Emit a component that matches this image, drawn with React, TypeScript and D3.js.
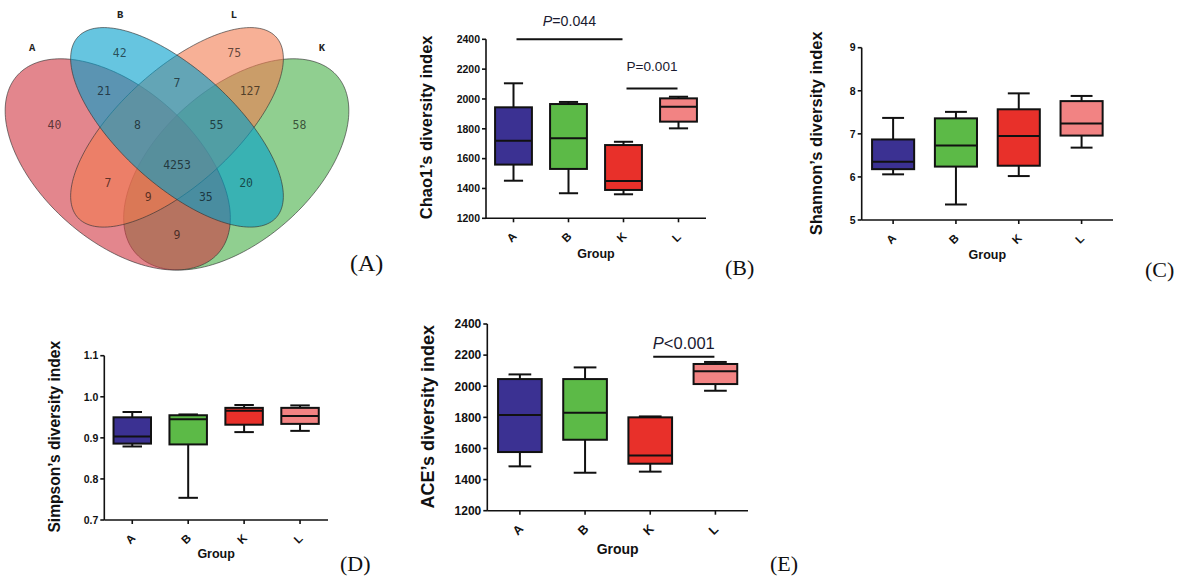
import React from "react";
import * as d3 from "d3";

// ---------- DATA ----------
const groups = ["A", "B", "K", "L"];
const groupColors = ["#3b3192", "#5cba47", "#e8302a", "#f28383"];

// each group: [min, q1, median, q3, max]
const chao1 = [
  [1452, 1560, 1720, 1944, 2105],
  [1368, 1531, 1736, 1966, 1980],
  [1361, 1390, 1450, 1691, 1713],
  [1803, 1848, 1948, 2004, 2015],
];
const shannon = [
  [6.06, 6.18, 6.35, 6.87, 7.37],
  [5.36, 6.24, 6.73, 7.36, 7.51],
  [6.02, 6.26, 6.95, 7.57, 7.94],
  [6.68, 6.96, 7.24, 7.76, 7.88],
];
const simpson = [
  [0.879, 0.886, 0.903, 0.95, 0.963],
  [0.754, 0.884, 0.945, 0.955, 0.957],
  [0.914, 0.932, 0.966, 0.973, 0.98],
  [0.917, 0.934, 0.953, 0.973, 0.979],
];
const ace = [
  [1485, 1577, 1815, 2046, 2076],
  [1444, 1656, 1830, 2046, 2121],
  [1451, 1502, 1554, 1800, 1806],
  [1971, 2014, 2096, 2143, 2156],
];

const chaoTicks = [1200, 1400, 1600, 1800, 2000, 2200, 2400];
const shannonTicks = [5, 6, 7, 8, 9];
const simpsonTicks = [0.7, 0.8, 0.9, 1.0, 1.1];
const aceTicks = [1200, 1400, 1600, 1800, 2000, 2200, 2400];

const chaoSig = [
  { from: "A", to: "K", level: 2400, label: "=0.044", italic: true },
  { from: "K", to: "L", level: 2070, label: "=0.001", italic: false },
];
const aceSig = [{ from: "K", to: "L", level: 2190, label: "<0.001", italic: true }];

// Venn
const vennSets = ["A", "B", "L", "K"];
const vennColors = ["#d03541", "#009ecb", "#f27b50", "#46af46"];
const vennCounts = [40, 42, 75, 58, 21, 7, 127, 8, 55, 4253, 7, 20, 9, 35, 9];

// ---------- LAYOUT ----------
const FONT = "'Liberation Sans', Arial, Helvetica, sans-serif";
const SERIF = "'Liberation Serif', 'Times New Roman', serif";
const MONO = "'DejaVu Sans Mono', 'Liberation Mono', monospace";

// unit-space positions of venn region labels (same order as vennCounts)
const vennLabelPos: [number, number][] = [
  [0.19, 0.576], [0.355, 0.771], [0.645, 0.771], [0.81, 0.576],
  [0.315, 0.668], [0.5, 0.69], [0.685, 0.668],
  [0.4, 0.576], [0.6, 0.576], [0.5, 0.468],
  [0.325, 0.42], [0.675, 0.42], [0.427, 0.382], [0.573, 0.382], [0.5, 0.279],
];
const vennSetLabelPos: [number, number][] = [[0.133, 0.787], [0.356, 0.876], [0.644, 0.876], [0.867, 0.787]];
// ellipses: cx, cy, a, b, angle(deg)
const vennEllipses = [
  [0.35, 0.47, 0.35, 0.2, -45],
  [0.5, 0.57, 0.35, 0.15, -45],
  [0.5, 0.57, 0.35, 0.15, 45],
  [0.65, 0.47, 0.35, 0.2, 45],
];
const drawOrder = [3, 0, 2, 1];

function Venn() {
  const sx = d3.scaleLinear().domain([0, 1]).range([-20.5, 374.5]);
  const sy = d3.scaleLinear().domain([0.84, 0.185]).range([27.3, 270]);
  const line = d3.line<[number, number]>().curve(d3.curveLinearClosed);
  const paths = vennEllipses.map(([cx, cy, a, b, ang]) => {
    const th = (ang * Math.PI) / 180;
    const pts: [number, number][] = d3.range(0, 180).map((i) => {
      const t = (i / 180) * 2 * Math.PI;
      const ux = cx + a * Math.cos(t) * Math.cos(th) - b * Math.sin(t) * Math.sin(th);
      const uy = cy + a * Math.cos(t) * Math.sin(th) + b * Math.sin(t) * Math.cos(th);
      return [sx(ux), sy(uy)];
    });
    return line(pts) as string;
  });
  return (
    <g>
      {drawOrder.map((i) => (
        <path key={i} d={paths[i]} fill={vennColors[i]} fillOpacity={0.6} stroke="#333" strokeOpacity={0.8} strokeWidth={0.8} />
      ))}
      {vennCounts.map((c, i) => (
        <text key={i} x={sx(vennLabelPos[i][0])} y={sy(vennLabelPos[i][1])} textAnchor="middle" dy="0.35em"
          fontFamily={MONO} fontSize={11.5} fill="#000" fillOpacity={0.62}>{c}</text>
      ))}
      {vennSets.map((s, i) => (
        <text key={s} x={sx(vennSetLabelPos[i][0])} y={sy(vennSetLabelPos[i][1])} textAnchor="middle" dy="0.35em"
          fontFamily="'Liberation Mono', 'DejaVu Sans Mono', monospace" fontWeight="bold" fontSize={10.5} fill="#222">{s}</text>
      ))}
      <text x={350} y={271} fontFamily={SERIF} fontSize={24} fill="#111">(A)</text>
    </g>
  );
}

type Panel = {
  data: number[][];
  ticks: number[];
  fmt: (v: number) => string;
  domain: [number, number];
  x0: number; x1: number; yTop: number; yBot: number;
  title: string; titleX: number; titleY: number; titleSize: number;
  tickSize: number; groupY: number; groupSize: number; catSize: number;
  tag: string; tagX: number; tagY: number;
  sig?: { from: string; to: string; level: number; label: string; italic: boolean }[];
  sigGap?: number[]; sigSize?: number[];
};

function BoxPanel({ p }: { p: Panel }) {
  const x = d3.scalePoint<string>().domain(groups).range([p.x0, p.x1]).padding(0.5);
  const y = d3.scaleLinear().domain(p.domain).range([p.yBot, p.yTop]);
  const bw = x.step() * 0.67;
  const cw = bw * 0.52;
  return (
    <g>
      {/* axes */}
      <line x1={p.x0} x2={p.x0} y1={p.yTop} y2={p.yBot} stroke="#111" strokeWidth={1.6} />
      <line x1={p.x0} x2={p.x1} y1={p.yBot} y2={p.yBot} stroke="#111" strokeWidth={1.6} />
      {p.ticks.map((t) => (
        <g key={t}>
          <line x1={p.x0 - 4} x2={p.x0} y1={y(t)} y2={y(t)} stroke="#111" strokeWidth={1.6} />
          <text x={p.x0 - 6} y={y(t)} dy="0.36em" textAnchor="end" fontFamily={FONT} fontWeight="bold"
            fontSize={p.tickSize} fill="#111">{p.fmt(t)}</text>
        </g>
      ))}
      {groups.map((g) => (
        <g key={g}>
          <line x1={x(g)} x2={x(g)} y1={p.yBot} y2={p.yBot + 4} stroke="#111" strokeWidth={1.6} />
          <text transform={`translate(${(x(g) as number) - 2},${p.yBot + 19}) rotate(-45)`} textAnchor="middle"
            dy="0.35em" fontFamily={FONT} fontWeight="bold" fontSize={p.catSize} fill="#111">{g}</text>
        </g>
      ))}
      <text x={(p.x0 + p.x1) / 2} y={p.groupY} textAnchor="middle" fontFamily={FONT} fontWeight="bold"
        fontSize={p.groupSize} fill="#111">Group</text>
      <text transform={`translate(${p.titleX},${p.titleY}) rotate(-90)`} textAnchor="middle" dy="0.35em"
        fontFamily={FONT} fontWeight="bold" fontSize={p.titleSize} fill="#111">{p.title}</text>
      {/* boxes */}
      {p.data.map((d, i) => {
        const cx = x(groups[i]) as number;
        const [mn, q1, md, q3, mx] = d;
        return (
          <g key={i} stroke="#111" strokeWidth={2}>
            <line x1={cx} x2={cx} y1={y(mx)} y2={y(q3)} />
            <line x1={cx} x2={cx} y1={y(q1)} y2={y(mn)} />
            <line x1={cx - cw / 2} x2={cx + cw / 2} y1={y(mx)} y2={y(mx)} />
            <line x1={cx - cw / 2} x2={cx + cw / 2} y1={y(mn)} y2={y(mn)} />
            <rect x={cx - bw / 2} y={y(q3)} width={bw} height={y(q1) - y(q3)} fill={groupColors[i]} />
            <line x1={cx - bw / 2} x2={cx + bw / 2} y1={y(md)} y2={y(md)} />
          </g>
        );
      })}
      {(p.sig || []).map((s, i) => {
        const xa = (x(s.from) as number) + 3;
        const xb = (x(s.to) as number) - 1;
        const ly = y(s.level);
        return (
          <g key={i}>
            <line x1={xa} x2={xb} y1={ly} y2={ly} stroke="#111" strokeWidth={2} />
            <text x={(xa + xb) / 2} y={ly - (p.sigGap as number[])[i]} textAnchor="middle" fontFamily={FONT}
              fontSize={(p.sigSize as number[])[i]} fill="#1a1a30">
              <tspan fontStyle={s.italic ? "italic" : "normal"}>P</tspan>{s.label}
            </text>
          </g>
        );
      })}
      <text x={p.tagX} y={p.tagY} fontFamily={SERIF} fontSize={22} fill="#111">{p.tag}</text>
    </g>
  );
}

const intFmt = (v: number) => String(v);
const oneDec = d3.format(".1f");

const panels: Panel[] = [
  {
    data: chao1, ticks: chaoTicks, fmt: intFmt, domain: [1200, 2400],
    x0: 486, x1: 706, yTop: 39.3, yBot: 218.3,
    title: "Chao1\u2019s diversity index", titleX: 426.7, titleY: 127.3, titleSize: 16.5,
    tickSize: 10.5, groupY: 258, groupSize: 12.5, catSize: 11.5,
    tag: "(B)", tagX: 725, tagY: 275,
    sig: chaoSig, sigGap: [13, 17.5], sigSize: [14.2, 13.6],
  },
  {
    data: shannon, ticks: shannonTicks, fmt: intFmt, domain: [5, 9],
    x0: 861.7, x1: 1113, yTop: 47.7, yBot: 220,
    title: "Shannon\u2019s diversity index", titleX: 816.7, titleY: 133.3, titleSize: 16.5,
    tickSize: 10.5, groupY: 259, groupSize: 12.5, catSize: 11.5,
    tag: "(C)", tagX: 1145, tagY: 277,
  },
  {
    data: simpson, ticks: simpsonTicks, fmt: oneDec, domain: [0.7, 1.1],
    x0: 104.3, x1: 328, yTop: 355.7, yBot: 520,
    title: "Simpson\u2019s diversity index", titleX: 55, titleY: 436.7, titleSize: 15.6,
    tickSize: 10.5, groupY: 558, groupSize: 12.5, catSize: 11.5,
    tag: "(D)", tagX: 340, tagY: 571,
  },
  {
    data: ace, ticks: aceTicks, fmt: intFmt, domain: [1200, 2400],
    x0: 487.3, x1: 748, yTop: 324, yBot: 510.7,
    title: "ACE\u2019s diversity index", titleX: 427.3, titleY: 416.7, titleSize: 18,
    tickSize: 12, groupY: 554, groupSize: 14, catSize: 12.5,
    tag: "(E)", tagX: 770, tagY: 571,
    sig: aceSig, sigGap: [7.5], sigSize: [16.5],
  },
];

export default function App() {
  return (
    <svg width={1178} height={579} viewBox="0 0 1178 579"
      style={{ position: "absolute", left: 0, top: 0, background: "#fff" }}>
      <rect width={1178} height={579} fill="#fff" />
      <Venn />
      {panels.map((p, i) => (
        <BoxPanel key={i} p={p} />
      ))}
    </svg>
  );
}
